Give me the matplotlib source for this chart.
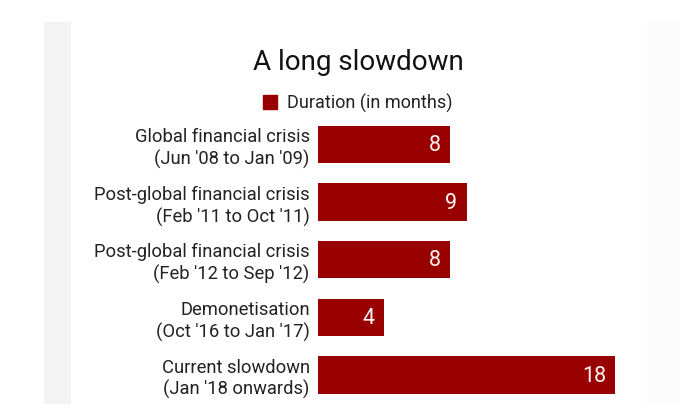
import matplotlib
matplotlib.use("Agg")
import matplotlib.pyplot as plt
from matplotlib.patches import Rectangle, Patch

# data
labels = [
    "Global financial crisis\n(Jun '08 to Jan '09)",
    "Post-global financial crisis\n(Feb '11 to Oct '11)",
    "Post-global financial crisis\n(Feb '12 to Sep '12)",
    "Demonetisation\n(Oct '16 to Jan '17)",
    "Current slowdown\n(Jan '18 onwards)",
]
months = [8, 9, 8, 4, 18]

bar_color = "#990000"
plt.rcParams['font.family'] = ['Roboto', 'DejaVu Sans']

W, H = 680, 418
fig = plt.figure(figsize=(W / 100, H / 100), dpi=100)
fig.patch.set_facecolor("white")

# light grey strips at the card edges
fig.patches.append(Rectangle((44 / W, 1 - 403 / H), 26 / W, 381 / H,
                             transform=fig.transFigure, color="#f3f3f3", zorder=0))
fig.patches.append(Rectangle((647 / W, 1 - 403 / H), 33 / W, 381 / H,
                             transform=fig.transFigure, color="#fcfcfc", zorder=0))

# axes: bars from x=318 to 615 px (0..18)
ax = fig.add_axes([318 / W, 1 - 403.8 / H, 297 / W, (403.8 - 115.7) / H])
ax.set_facecolor("none")
ypos = list(range(len(months)))
ax.barh(ypos, months, height=0.65, color=bar_color)
ax.set_xlim(0, 18)
ax.set_ylim(4.5, -0.5)

for y, v in zip(ypos, months):
    ax.text(v - 0.55, y + 0.02, str(v), ha="right", va="center", color="#fff4f4", fontsize=15.5)

ax.set_yticks(ypos)
ax.set_yticklabels(labels, fontsize=13.2, color="#222222", linespacing=1.25)
ax.tick_params(axis="y", length=0, pad=6)
ax.set_xticks([])
for s in ax.spines.values():
    s.set_visible(False)

fig.text(358 / W, 1 - 62 / H, "A long slowdown", ha="center", va="center",
         fontsize=20, color="#111111")

fig.legend(handles=[Patch(color=bar_color, label="Duration (in months)")],
           loc="center", bbox_to_anchor=(358 / W, 1 - 103 / H), frameon=False,
           fontsize=13, handlelength=0.75, handleheight=0.75, handletextpad=0.6,
           labelcolor="#222222")

fig.savefig("out.png", dpi=100, facecolor="white")
